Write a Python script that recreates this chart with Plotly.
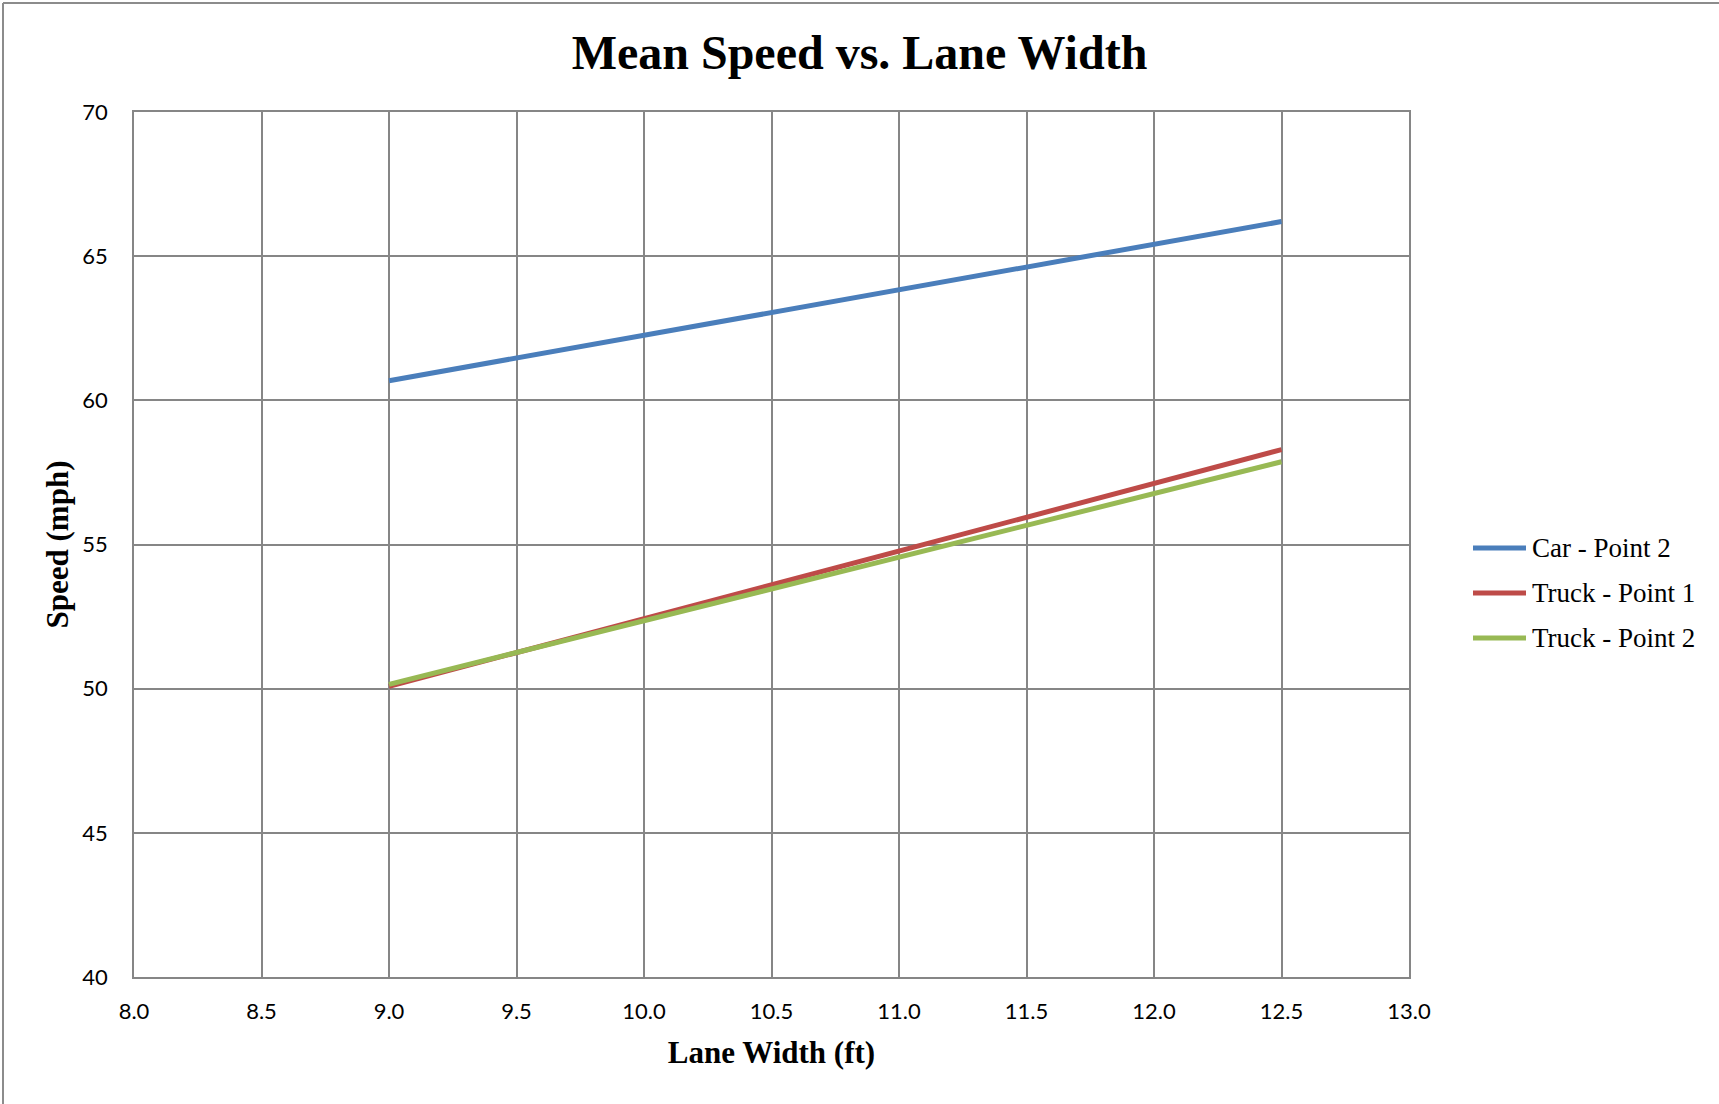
import plotly.graph_objects as go

# Lane width (ft) at which speeds were measured
lane_width = [9.0, 12.5]

# Mean speed (mph) per vehicle/location series
car_point2 = [60.68, 66.2]
truck_point1 = [50.08, 58.29]
truck_point2 = [50.15, 57.87]

series = [
    ("Car - Point 2", car_point2, "#4A7EBB"),
    ("Truck - Point 1", truck_point1, "#BE4B48"),
    ("Truck - Point 2", truck_point2, "#98B954"),
]

W, H = 1719, 1104
L, R, T, B = 134, 310, 112, 127
pw, ph = W - L - R, H - T - B

def px_x(x):
    """Pixel column -> paper x."""
    return (x - L) / pw

def px_y(y):
    """Pixel row -> paper y."""
    return 1 - (y - T) / ph

fig = go.Figure()
for name, ys, color in series:
    fig.add_trace(go.Scatter(
        x=lane_width, y=ys, mode="lines", name=name,
        line=dict(color=color, width=5), showlegend=False,
    ))

grid = "#868686"
serif = "'Liberation Serif', 'Times New Roman', serif"
tick_font = dict(family="Lato, 'Open Sans', sans-serif", size=22, color="#000")
title_font = dict(family=serif, size=31, color="#000")

fig.update_layout(
    width=W, height=H,
    margin=dict(l=L, r=R, t=T, b=B),
    paper_bgcolor="white", plot_bgcolor="white",
    title=dict(
        text="<b>Mean Speed vs. Lane Width</b>",
        x=0.5, xanchor="center",
        y=1 - 52 / H, yanchor="middle",
        font=dict(family=serif, size=48, color="#000"),
    ),
    xaxis=dict(
        range=[8.0, 13.0], dtick=0.5, tickformat=".1f",
        showgrid=True, gridcolor=grid, gridwidth=1.5,
        showline=True, linecolor=grid, linewidth=1.5, mirror=True,
        zeroline=False, ticks="", tickfont=tick_font, ticklabelstandoff=14,
        title=dict(text="<b>Lane Width (ft)</b>", font=title_font, standoff=18),
    ),
    yaxis=dict(
        range=[40, 70], dtick=5,
        showgrid=True, gridcolor=grid, gridwidth=1.5,
        showline=True, linecolor=grid, linewidth=1.5, mirror=True,
        zeroline=False, ticks="", tickfont=tick_font, ticklabelstandoff=20,
        title=dict(text="<b>Speed (mph)</b>", font=title_font, standoff=4),
    ),
)

# Legend: a line sample and a label for each series
legend_rows = [548, 593, 638]
for (name, _, color), row in zip(series, legend_rows):
    fig.add_shape(type="line", xref="paper", yref="paper",
                  x0=px_x(1473), x1=px_x(1526), y0=px_y(row), y1=px_y(row),
                  line=dict(color=color, width=5))
    fig.add_annotation(xref="paper", yref="paper", x=px_x(1530), y=px_y(row),
                       xanchor="left", yanchor="middle", showarrow=False,
                       text=name, font=dict(family=serif, size=27, color="#000"))

# Chart-area frame (left and top edges)
x_left = px_x(3)
y_top = px_y(3)
fig.add_shape(type="line", xref="paper", yref="paper",
              x0=x_left, x1=1.4, y0=y_top, y1=y_top,
              line=dict(color="#8C8C8C", width=2))
fig.add_shape(type="line", xref="paper", yref="paper",
              x0=x_left, x1=x_left, y0=y_top, y1=-0.3,
              line=dict(color="#8C8C8C", width=2))

fig.write_html("out.html")
